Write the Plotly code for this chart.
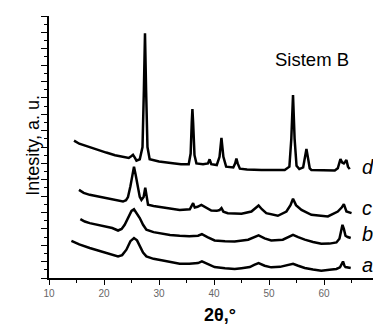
import plotly.graph_objects as go

# ---- data (2theta in degrees, intensity in arbitrary units, offset stacked) ----
d_x = [14.55, 15.5, 17.4, 19, 20.4, 22, 23.45, 24.5, 25.0, 25.27, 25.6, 25.9, 26.5, 27.0, 27.25, 27.45, 27.65, 27.9, 28.3,
       30, 32.5, 34, 35.4, 35.75, 35.95, 36.07, 36.2, 36.45, 36.8, 38, 38.9, 39.2, 39.5, 40.5, 41.0, 41.35, 41.7, 42.2,
       43.5, 43.85, 44.07, 44.3, 44.7, 46, 48.6, 50, 52.85, 53.7, 54.05, 54.36, 54.65, 55.0, 55.5, 56.2, 56.5, 56.8,
       57.1, 57.4, 57.7, 60, 61.95, 62.5, 62.98, 63.3, 63.6, 63.85, 64.07, 64.35, 64.67]
d_y = [8.39, 8.2, 7.99, 7.8, 7.66, 7.5, 7.38, 7.33, 7.45, 7.52, 7.35, 7.17, 7.25, 8.0, 11.5, 14.94, 11.5, 8.0, 7.26,
       7.12, 7.01, 6.95, 6.95, 7.6, 9.5, 10.32, 9.5, 7.5, 7.0, 6.95, 7.0, 7.25, 6.95, 6.9, 7.4, 8.55, 7.4, 6.8,
       6.75, 7.0, 7.29, 7.0, 6.68, 6.62, 6.6, 6.6, 6.6, 6.8, 8.5, 11.18, 8.5, 6.85, 6.65, 6.75, 7.3, 7.88,
       7.3, 6.7, 6.6, 6.58, 6.56, 6.7, 7.26, 7.05, 7.0, 7.1, 7.21, 6.8, 6.65]

c_x = [15.45, 16.3, 17.4, 19, 20.4, 22, 23.45, 24.0, 24.36, 24.8, 25.2, 25.45, 25.75, 26.2, 26.5, 26.8, 27.2, 27.5,
       27.75, 28.0, 29, 30.7, 32, 33.76, 35.6, 35.9, 36.2, 36.5, 37.0, 37.7, 38.5, 39.5, 40.5, 41.0, 41.35, 41.7,
       42.5, 45, 46.8, 47.5, 48.1, 48.7, 49.5, 51.6, 53.16, 53.9, 54.36, 54.9, 55.9, 57.7, 60.7, 62.5, 63.2, 63.6,
       63.85, 64.07, 65.0]
c_y = [5.38, 5.2, 5.08, 4.97, 4.88, 4.77, 4.67, 4.75, 4.94, 5.6, 6.5, 6.8, 6.3, 5.38, 4.95, 4.77, 4.95, 5.52,
       4.9, 4.47, 4.4, 4.33, 4.25, 4.16, 4.2, 4.35, 4.57, 4.3, 4.35, 4.47, 4.3, 4.12, 4.1, 4.15, 4.27, 4.05,
       3.96, 3.92, 4.06, 4.25, 4.43, 4.2, 3.96, 3.8, 4.06, 4.45, 4.84, 4.45, 4.16, 3.86, 3.76, 4.06, 4.3, 4.51,
       4.2, 4.06, 3.96]

b_x = [15.7, 16.5, 17.4, 19, 20.4, 21.5, 22.55, 23.2, 23.76, 24.4, 25.0, 25.45, 25.9, 26.5, 27.1, 27.7, 29, 30.7,
       32, 33.76, 35.5, 37.1, 37.8, 38.8, 40.1, 42, 43.76, 46.2, 47.2, 48.1, 49.2, 50.4, 52.5, 53.5, 54.36, 55.3,
       56.5, 58, 59.5, 61, 62.25, 62.8, 63.1, 63.35, 63.6, 63.9, 64.3, 64.85]
b_y = [3.6, 3.45, 3.35, 3.25, 3.15, 3.05, 2.9, 3.0, 3.25, 3.7, 4.1, 4.2, 4.0, 3.66, 3.25, 2.95, 2.8, 2.7,
       2.63, 2.58, 2.55, 2.58, 2.68, 2.5, 2.29, 2.25, 2.23, 2.34, 2.47, 2.6, 2.42, 2.29, 2.34, 2.5, 2.64, 2.5,
       2.34, 2.2, 2.09, 2.1, 2.17, 2.4, 3.0, 3.25, 3.0, 2.58, 2.5, 2.44]

a_x = [14.07, 15.5, 17.4, 19, 20.4, 21.5, 22.55, 23.3, 24.07, 24.8, 25.45, 26.0, 26.5, 27.1, 27.7, 29, 30.7, 32,
       33.76, 35.5, 37.1, 37.8, 38.8, 40.1, 42, 43.76, 45, 46.5, 47.3, 48.1, 49.2, 50.4, 52, 53.2, 54.36, 55.3,
       56.5, 58, 59.5, 61, 62.25, 62.9, 63.45, 63.7, 63.9, 64.85]
a_y = [2.27, 2.05, 1.83, 1.68, 1.52, 1.42, 1.32, 1.4, 1.73, 2.25, 2.44, 2.3, 1.93, 1.55, 1.32, 1.17, 1.07, 0.98,
       0.87, 0.87, 0.91, 1.01, 0.85, 0.67, 0.6, 0.55, 0.6, 0.67, 0.8, 0.91, 0.75, 0.65, 0.68, 0.78, 0.87, 0.75,
       0.61, 0.52, 0.45, 0.5, 0.55, 0.65, 1.01, 0.75, 0.67, 0.61]

curve_labels = ["d", "c", "b", "a"]
curve_label_y = [6.8, 4.29, 2.7, 0.81]
x_tick_vals = [10, 20, 30, 40, 50, 60]
x_tick_text = ["10", "20", "30", "40", "50", "60"]

FONT = "Liberation Sans, Arial, sans-serif"

fig = go.Figure()
for xs, ys in [(a_x, a_y), (b_x, b_y), (c_x, c_y), (d_x, d_y)]:
    fig.add_trace(go.Scatter(x=xs, y=ys, mode="lines",
                             line=dict(color="black", width=2.5),
                             showlegend=False, hoverinfo="skip"))

for lab, ly in zip(curve_labels, curve_label_y):
    fig.add_annotation(x=66.5, y=ly, xref="x", yref="y", text=lab, showarrow=False,
                       xanchor="left", yanchor="middle",
                       font=dict(family=FONT, size=20, color="black", style="italic"))

fig.add_annotation(x=57.85, y=13.37, xref="x", yref="y", text="Sistem B", showarrow=False,
                   xanchor="center", yanchor="middle",
                   font=dict(family=FONT, size=18.5, color="black"))

fig.add_annotation(x=-0.05, y=8.13, xref="paper", yref="y", text="Intesity, a. u.", showarrow=False,
                   textangle=-90, xanchor="center", yanchor="middle",
                   font=dict(family=FONT, size=18, color="black"))

fig.add_annotation(x=41.04, y=-0.14, xref="x", yref="paper", text="<b>2θ,°</b>", showarrow=False,
                   xanchor="center", yanchor="middle",
                   font=dict(family=FONT, size=18, color="black"))

fig.update_layout(
    width=373, height=327,
    margin=dict(l=49, r=0, t=16, b=49),
    paper_bgcolor="white", plot_bgcolor="white",
    xaxis=dict(range=[10, 68.9], showgrid=False, zeroline=False,
               showline=True, linecolor="black", linewidth=1.5,
               ticks="outside", ticklen=5, tickwidth=1.2, tickcolor="black",
               tickvals=x_tick_vals, ticktext=x_tick_text,
               tickfont=dict(family=FONT, size=10, color="#666"),
               minor=dict(dtick=5, ticks="outside", ticklen=3, tickwidth=1.2, tickcolor="black"),
               fixedrange=True),
    yaxis=dict(range=[0, 16], showgrid=False, zeroline=False,
               showline=True, linecolor="black", linewidth=1.5,
               ticks="outside", ticklen=6, tickwidth=1.2, tickcolor="black",
               dtick=1, tick0=0, showticklabels=False,
               minor=dict(dtick=0.5, ticks="outside", ticklen=3, tickwidth=1.2, tickcolor="black"),
               fixedrange=True),
)

fig.write_html("out.html", config={"displayModeBar": False},
               post_script="document.body.style.margin='0';document.body.style.overflow='hidden';")
